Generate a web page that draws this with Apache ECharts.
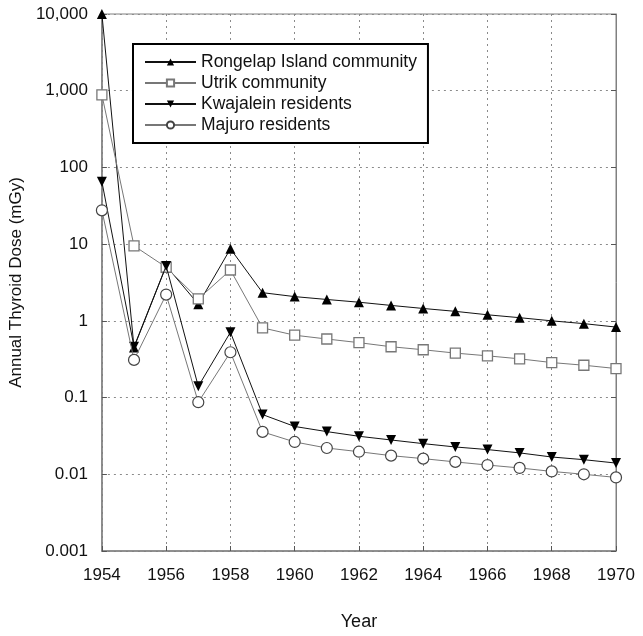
<!DOCTYPE html>
<html>
<head>
<meta charset="utf-8">
<script src="https://cdn.jsdelivr.net/npm/echarts@6/dist/echarts.min.js"></script>
<style>
html,body{margin:0;padding:0;background:#fff;}
#chart{width:643px;height:636px;}
</style>
</head>
<body>
<div id="chart"></div>
<script>
var years = [1954,1955,1956,1957,1958,1959,1960,1961,1962,1963,1964,1965,1966,1967,1968,1969,1970];
var rongelap = [10000, 0.45, 5.2, 1.65, 8.7, 2.33, 2.07, 1.90, 1.75, 1.59, 1.45, 1.33, 1.20, 1.10, 1.00, 0.92, 0.83];
var utrik = [885, 9.5, 5.0, 1.93, 4.6, 0.81, 0.65, 0.58, 0.52, 0.46, 0.42, 0.38, 0.35, 0.32, 0.286, 0.264, 0.239];
var kwajalein = [65, 0.46, 5.2, 0.14, 0.71, 0.060, 0.042, 0.036, 0.0313, 0.028, 0.0251, 0.0227, 0.021, 0.019, 0.0168, 0.0155, 0.0140];
var majuro = [27.6, 0.31, 2.2, 0.087, 0.39, 0.0357, 0.0264, 0.022, 0.0197, 0.0175, 0.016, 0.0145, 0.0132, 0.0121, 0.0109, 0.0100, 0.0091];
var seriesNames = ['Rongelap Island community','Utrik community','Kwajalein residents','Majuro residents'];
var yTickLabels = {'10000':'10,000','1000':'1,000','100':'100','10':'10','1':'1','0.1':'0.1','0.01':'0.01','0.001':'0.001'};

function pairs(vals){ return years.map(function(y,i){ return [y, vals[i]]; }); }
var FONT = '"Liberation Sans", Arial, Helvetica, sans-serif';
var gridLine = {show:true, lineStyle:{color:'#8a8a8a', width:1, type:[2,4]}};

var chart = echarts.init(document.getElementById('chart'));
chart.setOption({
  animation:false,
  backgroundColor:'#fff',
  grid:{left:84, right:27, top:14, bottom:85, show:true, borderColor:'#808080', borderWidth:1, backgroundColor:'transparent'},
  legend:{
    orient:'vertical', left:133, top:44,
    data: seriesNames,
    itemWidth:51, itemHeight:9, itemGap:3,
    padding:[9,11,9,11],
    borderColor:'#000', borderWidth:2, backgroundColor:'#fff',
    textStyle:{fontFamily:FONT, fontSize:17.5, color:'#111'}
  },
  xAxis:{
    type:'value', min:1954, max:1970, interval:2,
    name:'Year', nameLocation:'middle', nameGap:62,
    nameTextStyle:{fontFamily:FONT, fontSize:18, color:'#111'},
    axisLine:{show:true, lineStyle:{color:'#808080', width:1.5}},
    axisTick:{show:true, inside:true, length:5, lineStyle:{color:'#555'}},
    axisLabel:{fontFamily:FONT, fontSize:17, color:'#111', margin:16, formatter:function(v){return String(v);}},
    splitLine:gridLine
  },
  yAxis:[{
    type:'log', logBase:10, min:0.001, max:10000,
    name:'Annual Thyroid Dose (mGy)', nameLocation:'middle', nameGap:62,
    nameTextStyle:{fontFamily:FONT, fontSize:17, color:'#111'},
    axisLine:{show:true, lineStyle:{color:'#808080', width:1.5}},
    axisTick:{show:true, inside:true, length:5, lineStyle:{color:'#555'}},
    axisLabel:{fontFamily:FONT, fontSize:17, color:'#111', margin:14,
      formatter:function(v){ var k = String(+Number(v).toPrecision(3)); return yTickLabels[k] !== undefined ? yTickLabels[k] : k; }},
    splitLine:gridLine,
    minorTick:{show:false}
  },{
    type:'log', logBase:10, min:0.001, max:10000, position:'right',
    axisLine:{show:true, lineStyle:{color:'#808080', width:1}},
    axisTick:{show:true, inside:true, length:5, lineStyle:{color:'#555'}},
    axisLabel:{show:false}, splitLine:{show:false}
  }],
  series:[
    {name:seriesNames[0], type:'line', data:pairs(rongelap), symbol:'triangle', symbolSize:10,
      lineStyle:{color:'#111', width:1}, itemStyle:{color:'#000', borderColor:'#000', borderWidth:0}, z:2},
    {name:seriesNames[1], type:'line', data:pairs(utrik), symbol:'rect', symbolSize:10,
      lineStyle:{color:'#777', width:1}, itemStyle:{color:'#fff', borderColor:'#777', borderWidth:1.3}, z:3},
    {name:seriesNames[2], type:'line', data:pairs(kwajalein), symbol:'path://M0,0 L10,0 L5,10 Z', symbolSize:10,
      lineStyle:{color:'#111', width:1}, itemStyle:{color:'#000', borderColor:'#000', borderWidth:0}, z:4},
    {name:seriesNames[3], type:'line', data:pairs(majuro), symbol:'circle', symbolSize:11,
      lineStyle:{color:'#777', width:1}, itemStyle:{color:'#fff', borderColor:'#444', borderWidth:1.2}, z:5}
  ]
});
</script>
</body>
</html>
